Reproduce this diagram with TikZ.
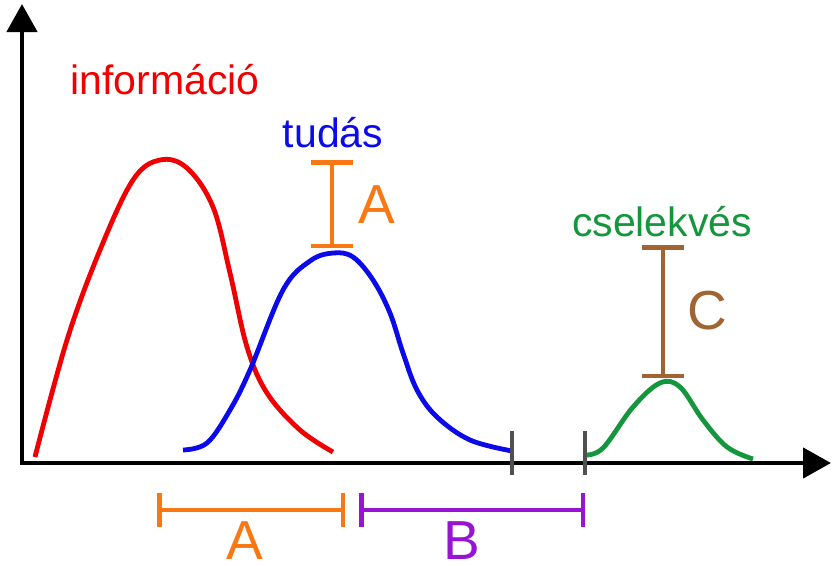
\documentclass[tikz,border=0pt]{standalone}
\usepackage{fontspec}
\setmainfont{Liberation Sans}
\usetikzlibrary{arrows.meta}
\definecolor{cred}{RGB}{240,0,0}
\definecolor{cblue}{RGB}{10,10,235}
\definecolor{cgreen}{RGB}{20,150,60}
\definecolor{corange}{RGB}{250,120,20}
\definecolor{cpurple}{RGB}{150,20,210}
\definecolor{cbrown}{RGB}{160,100,50}
\definecolor{cgray}{RGB}{80,80,80}
\tikzset{
  axis/.style={line width=4.5pt, -{Triangle[length=28pt,width=30pt]}},
  curve/.style={line width=4.8pt, smooth, tension=0.6},
  span/.style={line width=4.5pt, {Bar[width=34pt,line width=4.5pt]}-{Bar[width=34pt,line width=4.5pt]}},
  vspan/.style={line width=4.5pt, {Bar[width=42pt,line width=4.5pt]}-{Bar[width=42pt,line width=4.5pt]}},
  tick/.style={line width=3.8pt, cgray},
  word/.style={font=\fontsize{41}{48}\selectfont, inner sep=0pt},
  letter/.style={font=\fontsize{55}{64}\selectfont, inner sep=0pt}
}
\begin{document}
\begin{tikzpicture}[x=1pt,y=-1pt]
\useasboundingbox (0,0) rectangle (832,565);
% axes
\coordinate (o) at (22,463);
\coordinate (ytop) at (22,4);
\coordinate (xend) at (831,463);
\draw[axis] (o) -- (ytop);
\draw[axis] (20,463) -- (xend);
% curves
\draw[curve, cred] plot coordinates {(35,457) (67,340) (100,250) (133,180) (160,160) (187,168) (213,207) (230,273) (247,347) (267,393) (300,430) (333,452)};
\draw[curve, cblue] plot coordinates {(183,450) (207,443) (230,410) (250,370) (283,290) (310,261) (333,253) (353,257) (373,280) (390,313) (403,353) (417,390) (437,417) (470,440) (512,451)};
\draw[curve, cgreen] plot coordinates {(585,455) (603,448) (633,407) (660,383) (680,387) (703,420) (727,447) (753,459)};
% ticks
\coordinate (t1a) at (512,431); \coordinate (t1b) at (512,475);
\coordinate (t2a) at (585,431); \coordinate (t2b) at (585,475);
\draw[tick] (t1a) -- (t1b);
\draw[tick] (t2a) -- (t2b);
% labels
\node[word, text=cred] (info) at (165,80) {információ};
\node[word, text=cblue] (tudas) at (333,133) {tudás};
\node[word, text=cgreen] (csel) at (662,222) {cselekvés};
% vertical span A
\coordinate (va1) at (332,160); \coordinate (va2) at (332,248);
\draw[vspan, corange] (va1) -- (va2);
\node[letter, text=corange] (la) at (377,205) {A};
% vertical span C
\coordinate (vc1) at (663,245); \coordinate (vc2) at (663,378);
\draw[vspan, cbrown] (vc1) -- (vc2);
\node[letter, text=cbrown] (lc) at (707,311) {C};
% horizontal spans
\coordinate (ha1) at (157,510); \coordinate (ha2) at (345,510);
\coordinate (hb1) at (359,510); \coordinate (hb2) at (585,510);
\draw[span, corange] (ha1) -- (ha2);
\draw[span, cpurple] (hb1) -- (hb2);
\node[letter, text=corange] (lba) at (245,541) {A};
\node[letter, text=cpurple] (lbb) at (462,541) {B};
\end{tikzpicture}
\end{document}
